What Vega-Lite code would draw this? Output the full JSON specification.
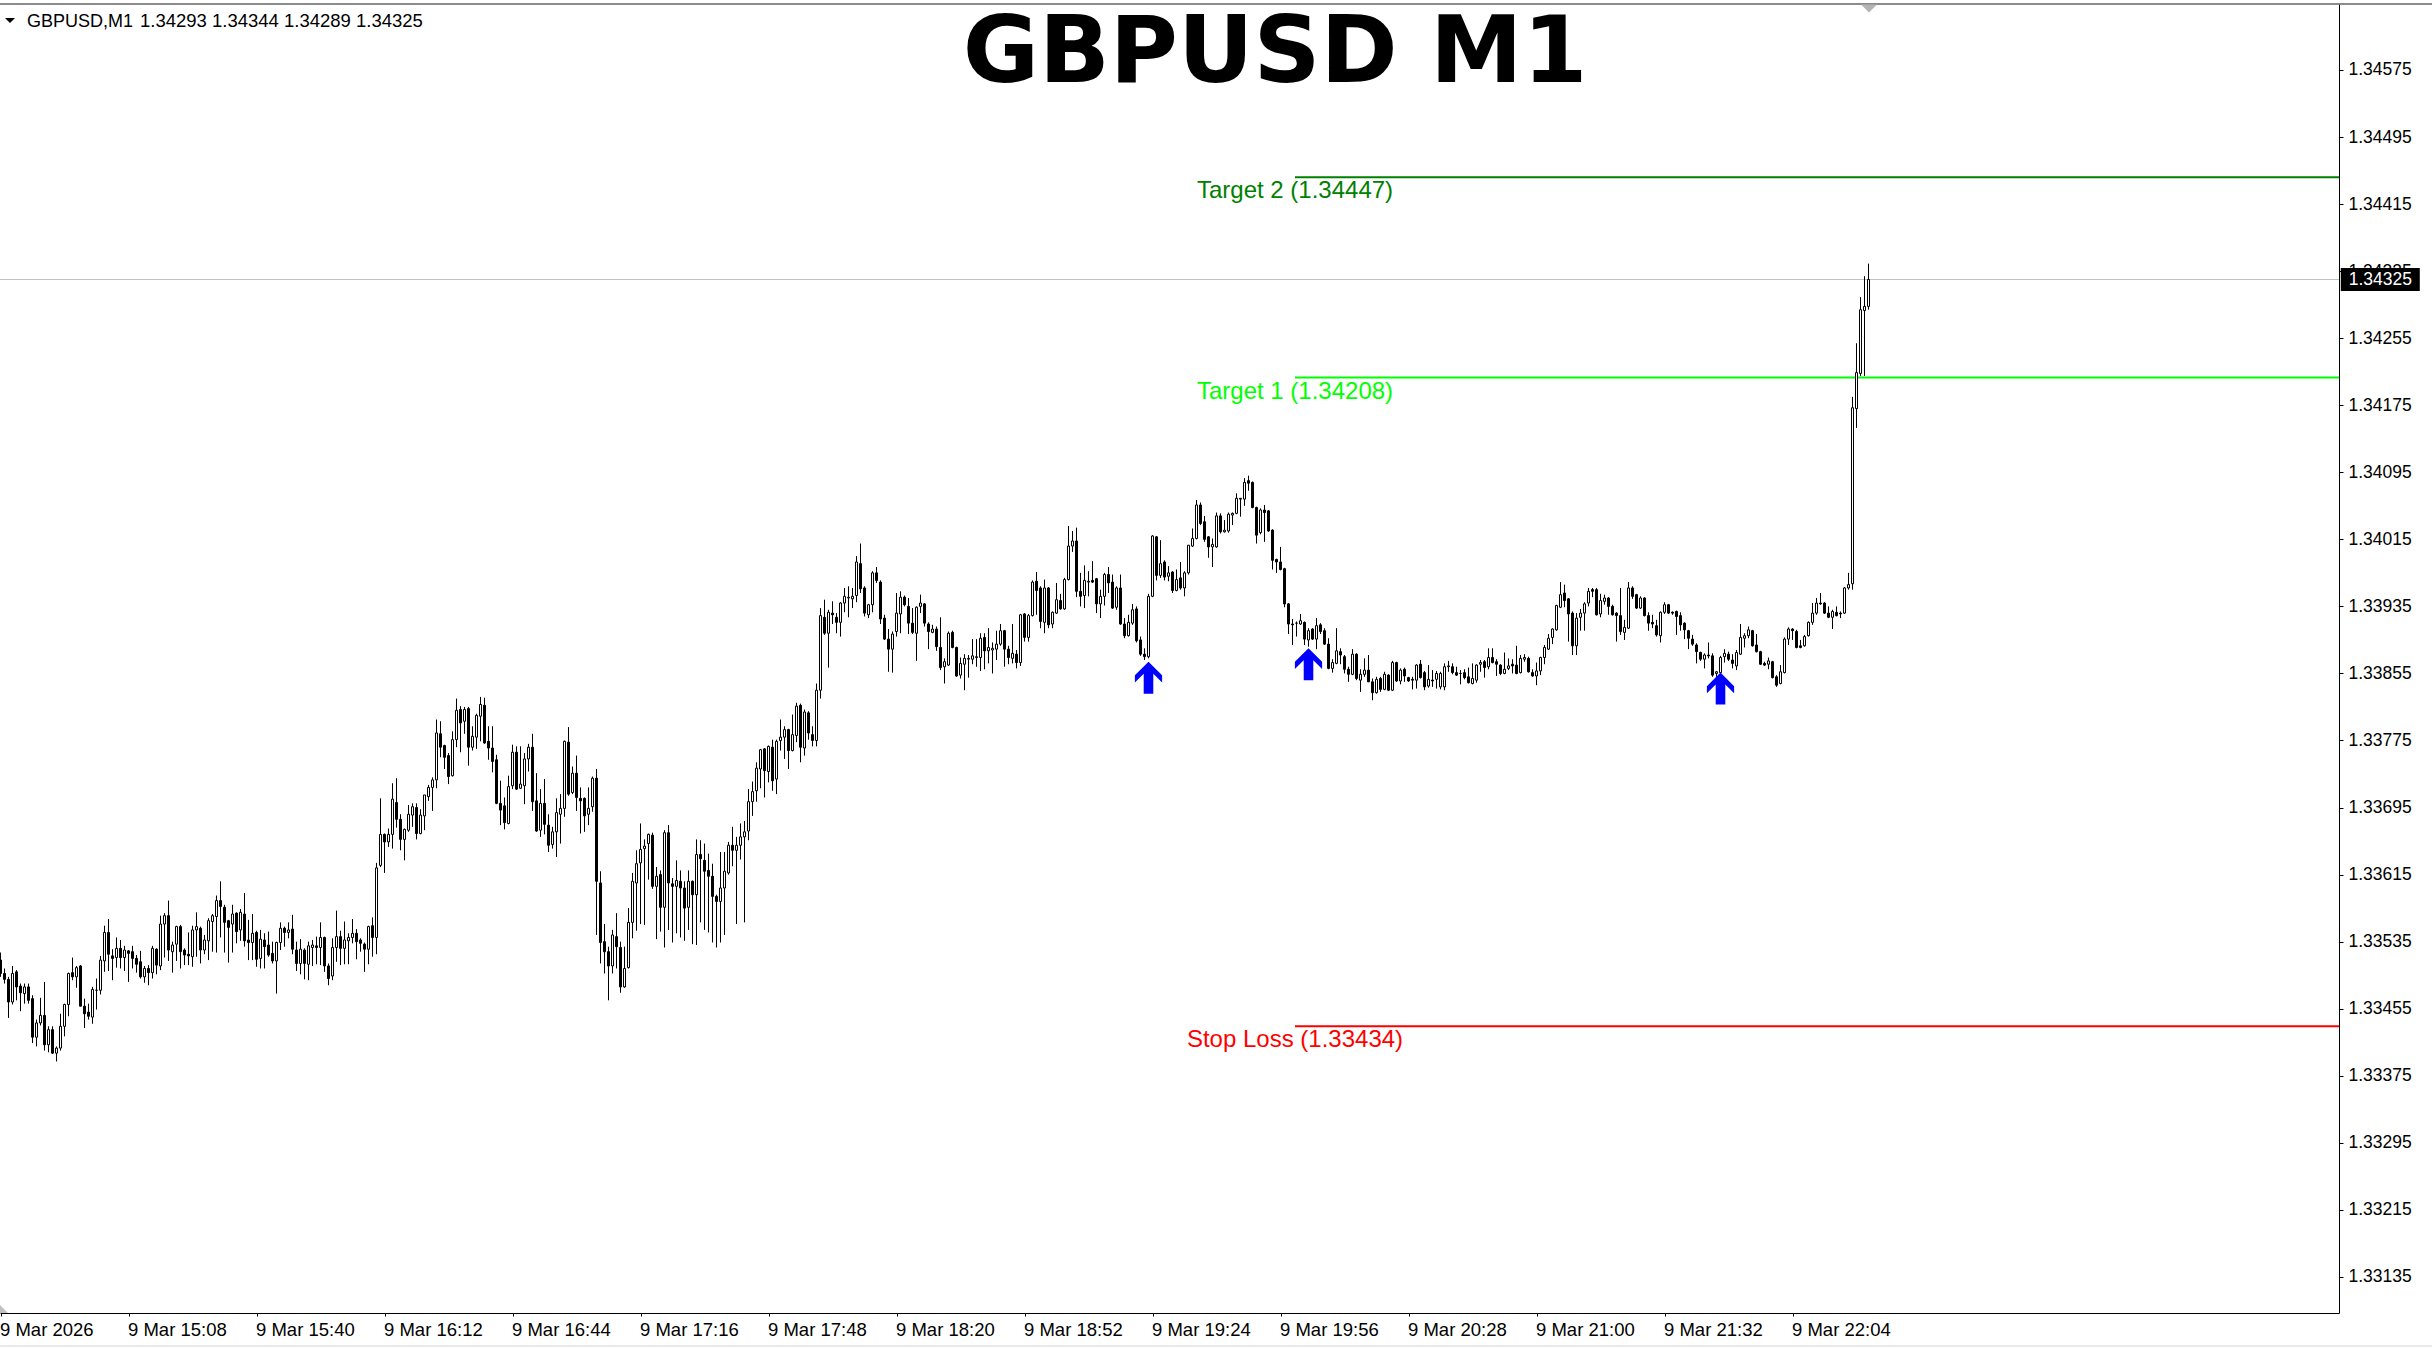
{
"$schema": "https://vega.github.io/schema/vega-lite/v6.json",
"width": 2339, "height": 1309,
"autosize": {"type": "none"},
"padding": {"left": 0, "top": 4, "right": 93, "bottom": 35},
"background": "white",
"config": {"view": {"stroke": null}},
"datasets": {
"levels": [
{"name": "Target 2", "p": 1.34447, "label": "Target 2 (1.34447)"},
{"name": "Target 1", "p": 1.34208, "label": "Target 1 (1.34208)"},
{"name": "Stop Loss", "p": 1.33434, "label": "Stop Loss (1.33434)"}
],
"arrows": [
{"i": 287, "p": 1.33850},
{"i": 327, "p": 1.33866},
{"i": 430, "p": 1.33837}
],
"bars": [
{"i":0,"o":1.33513,"h":1.33522,"l":1.33493,"c":1.33497},
{"i":1,"o":1.33497,"h":1.33503,"l":1.33485,"c":1.33490},
{"i":2,"o":1.33490,"h":1.33493,"l":1.33444,"c":1.33463},
{"i":3,"o":1.33463,"h":1.33506,"l":1.33460,"c":1.33497},
{"i":4,"o":1.33499,"h":1.33501,"l":1.33465,"c":1.33481},
{"i":5,"o":1.33482,"h":1.33485,"l":1.33452,"c":1.33474},
{"i":6,"o":1.33473,"h":1.33485,"l":1.33461,"c":1.33481},
{"i":7,"o":1.33481,"h":1.33485,"l":1.33461,"c":1.33465},
{"i":8,"o":1.33467,"h":1.33471,"l":1.33414,"c":1.33421},
{"i":9,"o":1.33421,"h":1.33442,"l":1.33410,"c":1.33438},
{"i":10,"o":1.33438,"h":1.33468,"l":1.33435,"c":1.33447},
{"i":11,"o":1.33447,"h":1.33487,"l":1.33405,"c":1.33412},
{"i":12,"o":1.33412,"h":1.33434,"l":1.33403,"c":1.33430},
{"i":13,"o":1.33430,"h":1.33434,"l":1.33401,"c":1.33402},
{"i":14,"o":1.33402,"h":1.33410,"l":1.33392,"c":1.33408},
{"i":15,"o":1.33408,"h":1.33449,"l":1.33405,"c":1.33434},
{"i":16,"o":1.33434,"h":1.33461,"l":1.33422,"c":1.33460},
{"i":17,"o":1.33460,"h":1.33498,"l":1.33446,"c":1.33497},
{"i":18,"o":1.33498,"h":1.33516,"l":1.33489,"c":1.33493},
{"i":19,"o":1.33493,"h":1.33506,"l":1.33480,"c":1.33504},
{"i":20,"o":1.33506,"h":1.33507,"l":1.33458,"c":1.33458},
{"i":21,"o":1.33458,"h":1.33467,"l":1.33432,"c":1.33449},
{"i":22,"o":1.33451,"h":1.33461,"l":1.33442,"c":1.33446},
{"i":23,"o":1.33445,"h":1.33481,"l":1.33437,"c":1.33478},
{"i":24,"o":1.33477,"h":1.33491,"l":1.33454,"c":1.33477},
{"i":25,"o":1.33477,"h":1.33518,"l":1.33472,"c":1.33513},
{"i":26,"o":1.33512,"h":1.33554,"l":1.33499,"c":1.33546},
{"i":27,"o":1.33546,"h":1.33562,"l":1.33500,"c":1.33520},
{"i":28,"o":1.33518,"h":1.33526,"l":1.33489,"c":1.33515},
{"i":29,"o":1.33516,"h":1.33540,"l":1.33504,"c":1.33527},
{"i":30,"o":1.33527,"h":1.33537,"l":1.33503,"c":1.33516},
{"i":31,"o":1.33516,"h":1.33530,"l":1.33500,"c":1.33525},
{"i":32,"o":1.33524,"h":1.33525,"l":1.33487,"c":1.33521},
{"i":33,"o":1.33523,"h":1.33530,"l":1.33503,"c":1.33515},
{"i":34,"o":1.33515,"h":1.33519,"l":1.33498,"c":1.33508},
{"i":35,"o":1.33511,"h":1.33524,"l":1.33491,"c":1.33493},
{"i":36,"o":1.33493,"h":1.33506,"l":1.33486,"c":1.33503},
{"i":37,"o":1.33503,"h":1.33507,"l":1.33483,"c":1.33498},
{"i":38,"o":1.33498,"h":1.33530,"l":1.33491,"c":1.33527},
{"i":39,"o":1.33526,"h":1.33527,"l":1.33496,"c":1.33507},
{"i":40,"o":1.33506,"h":1.33566,"l":1.33501,"c":1.33556},
{"i":41,"o":1.33556,"h":1.33569,"l":1.33516,"c":1.33566},
{"i":42,"o":1.33566,"h":1.33584,"l":1.33512,"c":1.33525},
{"i":43,"o":1.33523,"h":1.33535,"l":1.33498,"c":1.33531},
{"i":44,"o":1.33532,"h":1.33554,"l":1.33512,"c":1.33553},
{"i":45,"o":1.33553,"h":1.33555,"l":1.33503,"c":1.33523},
{"i":46,"o":1.33525,"h":1.33527,"l":1.33507,"c":1.33519},
{"i":47,"o":1.33520,"h":1.33546,"l":1.33507,"c":1.33518},
{"i":48,"o":1.33517,"h":1.33554,"l":1.33505,"c":1.33549},
{"i":49,"o":1.33549,"h":1.33570,"l":1.33517,"c":1.33553},
{"i":50,"o":1.33551,"h":1.33553,"l":1.33509,"c":1.33525},
{"i":51,"o":1.33525,"h":1.33543,"l":1.33520,"c":1.33537},
{"i":52,"o":1.33536,"h":1.33563,"l":1.33513,"c":1.33560},
{"i":53,"o":1.33559,"h":1.33568,"l":1.33523,"c":1.33566},
{"i":54,"o":1.33565,"h":1.33590,"l":1.33522,"c":1.33584},
{"i":55,"o":1.33584,"h":1.33607,"l":1.33540,"c":1.33577},
{"i":56,"o":1.33576,"h":1.33579,"l":1.33522,"c":1.33558},
{"i":57,"o":1.33560,"h":1.33561,"l":1.33510,"c":1.33552},
{"i":58,"o":1.33556,"h":1.33579,"l":1.33522,"c":1.33568},
{"i":59,"o":1.33569,"h":1.33570,"l":1.33533,"c":1.33547},
{"i":60,"o":1.33549,"h":1.33574,"l":1.33536,"c":1.33570},
{"i":61,"o":1.33568,"h":1.33593,"l":1.33529,"c":1.33536},
{"i":62,"o":1.33537,"h":1.33561,"l":1.33513,"c":1.33534},
{"i":63,"o":1.33534,"h":1.33568,"l":1.33513,"c":1.33545},
{"i":64,"o":1.33546,"h":1.33548,"l":1.33505,"c":1.33514},
{"i":65,"o":1.33515,"h":1.33549,"l":1.33503,"c":1.33538},
{"i":66,"o":1.33537,"h":1.33545,"l":1.33503,"c":1.33529},
{"i":67,"o":1.33531,"h":1.33547,"l":1.33517,"c":1.33519},
{"i":68,"o":1.33521,"h":1.33535,"l":1.33509,"c":1.33512},
{"i":69,"o":1.33512,"h":1.33535,"l":1.33473,"c":1.33534},
{"i":70,"o":1.33534,"h":1.33558,"l":1.33525,"c":1.33551},
{"i":71,"o":1.33551,"h":1.33553,"l":1.33529,"c":1.33546},
{"i":72,"o":1.33546,"h":1.33558,"l":1.33539,"c":1.33549},
{"i":73,"o":1.33550,"h":1.33567,"l":1.33520,"c":1.33526},
{"i":74,"o":1.33525,"h":1.33535,"l":1.33500,"c":1.33509},
{"i":75,"o":1.33509,"h":1.33538,"l":1.33496,"c":1.33526},
{"i":76,"o":1.33525,"h":1.33527,"l":1.33490,"c":1.33509},
{"i":77,"o":1.33508,"h":1.33535,"l":1.33489,"c":1.33530},
{"i":78,"o":1.33528,"h":1.33537,"l":1.33506,"c":1.33531},
{"i":79,"o":1.33530,"h":1.33541,"l":1.33508,"c":1.33528},
{"i":80,"o":1.33528,"h":1.33558,"l":1.33507,"c":1.33540},
{"i":81,"o":1.33540,"h":1.33541,"l":1.33499,"c":1.33506},
{"i":82,"o":1.33506,"h":1.33509,"l":1.33483,"c":1.33491},
{"i":83,"o":1.33494,"h":1.33539,"l":1.33489,"c":1.33528},
{"i":84,"o":1.33528,"h":1.33572,"l":1.33511,"c":1.33541},
{"i":85,"o":1.33541,"h":1.33548,"l":1.33507,"c":1.33527},
{"i":86,"o":1.33527,"h":1.33559,"l":1.33508,"c":1.33537},
{"i":87,"o":1.33536,"h":1.33545,"l":1.33508,"c":1.33540},
{"i":88,"o":1.33540,"h":1.33562,"l":1.33533,"c":1.33545},
{"i":89,"o":1.33545,"h":1.33550,"l":1.33514,"c":1.33535},
{"i":90,"o":1.33537,"h":1.33539,"l":1.33523,"c":1.33533},
{"i":91,"o":1.33532,"h":1.33534,"l":1.33499,"c":1.33526},
{"i":92,"o":1.33526,"h":1.33554,"l":1.33508,"c":1.33553},
{"i":93,"o":1.33554,"h":1.33564,"l":1.33517,"c":1.33540},
{"i":94,"o":1.33540,"h":1.33629,"l":1.33520,"c":1.33623},
{"i":95,"o":1.33626,"h":1.33706,"l":1.33624,"c":1.33663},
{"i":96,"o":1.33663,"h":1.33664,"l":1.33617,"c":1.33654},
{"i":97,"o":1.33654,"h":1.33670,"l":1.33648,"c":1.33663},
{"i":98,"o":1.33663,"h":1.33724,"l":1.33646,"c":1.33705},
{"i":99,"o":1.33701,"h":1.33730,"l":1.33671,"c":1.33681},
{"i":100,"o":1.33681,"h":1.33687,"l":1.33644,"c":1.33657},
{"i":101,"o":1.33657,"h":1.33670,"l":1.33632,"c":1.33669},
{"i":102,"o":1.33668,"h":1.33698,"l":1.33666,"c":1.33687},
{"i":103,"o":1.33686,"h":1.33700,"l":1.33672,"c":1.33696},
{"i":104,"o":1.33695,"h":1.33700,"l":1.33657,"c":1.33664},
{"i":105,"o":1.33664,"h":1.33693,"l":1.33663,"c":1.33686},
{"i":106,"o":1.33685,"h":1.33710,"l":1.33668,"c":1.33710},
{"i":107,"o":1.33708,"h":1.33722,"l":1.33703,"c":1.33719},
{"i":108,"o":1.33719,"h":1.33731,"l":1.33691,"c":1.33728},
{"i":109,"o":1.33728,"h":1.33800,"l":1.33718,"c":1.33784},
{"i":110,"o":1.33783,"h":1.33798,"l":1.33755,"c":1.33767},
{"i":111,"o":1.33769,"h":1.33770,"l":1.33741,"c":1.33755},
{"i":112,"o":1.33757,"h":1.33760,"l":1.33723,"c":1.33732},
{"i":113,"o":1.33733,"h":1.33786,"l":1.33732,"c":1.33776},
{"i":114,"o":1.33776,"h":1.33825,"l":1.33767,"c":1.33811},
{"i":115,"o":1.33812,"h":1.33816,"l":1.33761,"c":1.33796},
{"i":116,"o":1.33798,"h":1.33815,"l":1.33783,"c":1.33812},
{"i":117,"o":1.33813,"h":1.33815,"l":1.33745,"c":1.33767},
{"i":118,"o":1.33767,"h":1.33792,"l":1.33763,"c":1.33780},
{"i":119,"o":1.33779,"h":1.33807,"l":1.33765,"c":1.33805},
{"i":120,"o":1.33804,"h":1.33827,"l":1.33774,"c":1.33818},
{"i":121,"o":1.33817,"h":1.33826,"l":1.33771,"c":1.33772},
{"i":122,"o":1.33774,"h":1.33792,"l":1.33752,"c":1.33766},
{"i":123,"o":1.33766,"h":1.33792,"l":1.33737,"c":1.33750},
{"i":124,"o":1.33752,"h":1.33758,"l":1.33699,"c":1.33700},
{"i":125,"o":1.33700,"h":1.33727,"l":1.33674,"c":1.33692},
{"i":126,"o":1.33697,"h":1.33707,"l":1.33669,"c":1.33677},
{"i":127,"o":1.33676,"h":1.33733,"l":1.33675,"c":1.33720},
{"i":128,"o":1.33721,"h":1.33770,"l":1.33717,"c":1.33761},
{"i":129,"o":1.33761,"h":1.33768,"l":1.33716,"c":1.33717},
{"i":130,"o":1.33718,"h":1.33768,"l":1.33717,"c":1.33723},
{"i":131,"o":1.33721,"h":1.33760,"l":1.33699,"c":1.33753},
{"i":132,"o":1.33753,"h":1.33771,"l":1.33738,"c":1.33767},
{"i":133,"o":1.33767,"h":1.33783,"l":1.33691,"c":1.33702},
{"i":134,"o":1.33703,"h":1.33736,"l":1.33666,"c":1.33667},
{"i":135,"o":1.33668,"h":1.33717,"l":1.33660,"c":1.33700},
{"i":136,"o":1.33700,"h":1.33729,"l":1.33663,"c":1.33675},
{"i":137,"o":1.33674,"h":1.33687,"l":1.33642,"c":1.33650},
{"i":138,"o":1.33651,"h":1.33672,"l":1.33646,"c":1.33666},
{"i":139,"o":1.33666,"h":1.33706,"l":1.33636,"c":1.33689},
{"i":140,"o":1.33687,"h":1.33711,"l":1.33652,"c":1.33694},
{"i":141,"o":1.33694,"h":1.33775,"l":1.33684,"c":1.33774},
{"i":142,"o":1.33773,"h":1.33791,"l":1.33709,"c":1.33711},
{"i":143,"o":1.33713,"h":1.33744,"l":1.33711,"c":1.33736},
{"i":144,"o":1.33736,"h":1.33757,"l":1.33691,"c":1.33707},
{"i":145,"o":1.33706,"h":1.33719,"l":1.33664,"c":1.33703},
{"i":146,"o":1.33706,"h":1.33707,"l":1.33666,"c":1.33685},
{"i":147,"o":1.33687,"h":1.33719,"l":1.33674,"c":1.33694},
{"i":148,"o":1.33696,"h":1.33732,"l":1.33690,"c":1.33730},
{"i":149,"o":1.33730,"h":1.33741,"l":1.33543,"c":1.33607},
{"i":150,"o":1.33605,"h":1.33619,"l":1.33509,"c":1.33534},
{"i":151,"o":1.33535,"h":1.33556,"l":1.33497,"c":1.33523},
{"i":152,"o":1.33523,"h":1.33529,"l":1.33465,"c":1.33506},
{"i":153,"o":1.33506,"h":1.33549,"l":1.33497,"c":1.33543},
{"i":154,"o":1.33541,"h":1.33569,"l":1.33503,"c":1.33529},
{"i":155,"o":1.33528,"h":1.33535,"l":1.33474,"c":1.33481},
{"i":156,"o":1.33481,"h":1.33529,"l":1.33480,"c":1.33503},
{"i":157,"o":1.33504,"h":1.33575,"l":1.33503,"c":1.33558},
{"i":158,"o":1.33558,"h":1.33617,"l":1.33539,"c":1.33607},
{"i":159,"o":1.33605,"h":1.33644,"l":1.33548,"c":1.33628},
{"i":160,"o":1.33629,"h":1.33676,"l":1.33556,"c":1.33645},
{"i":161,"o":1.33646,"h":1.33657,"l":1.33555,"c":1.33649},
{"i":162,"o":1.33652,"h":1.33664,"l":1.33609,"c":1.33663},
{"i":163,"o":1.33662,"h":1.33665,"l":1.33598,"c":1.33601},
{"i":164,"o":1.33601,"h":1.33624,"l":1.33538,"c":1.33613},
{"i":165,"o":1.33615,"h":1.33620,"l":1.33547,"c":1.33576},
{"i":166,"o":1.33576,"h":1.33668,"l":1.33528,"c":1.33665},
{"i":167,"o":1.33665,"h":1.33674,"l":1.33549,"c":1.33605},
{"i":168,"o":1.33604,"h":1.33611,"l":1.33534,"c":1.33601},
{"i":169,"o":1.33601,"h":1.33632,"l":1.33545,"c":1.33608},
{"i":170,"o":1.33607,"h":1.33620,"l":1.33540,"c":1.33599},
{"i":171,"o":1.33599,"h":1.33607,"l":1.33536,"c":1.33575},
{"i":172,"o":1.33576,"h":1.33620,"l":1.33549,"c":1.33607},
{"i":173,"o":1.33607,"h":1.33608,"l":1.33532,"c":1.33591},
{"i":174,"o":1.33591,"h":1.33657,"l":1.33531,"c":1.33639},
{"i":175,"o":1.33639,"h":1.33656,"l":1.33558,"c":1.33634},
{"i":176,"o":1.33632,"h":1.33652,"l":1.33549,"c":1.33619},
{"i":177,"o":1.33620,"h":1.33640,"l":1.33546,"c":1.33613},
{"i":178,"o":1.33613,"h":1.33628,"l":1.33534,"c":1.33589},
{"i":179,"o":1.33589,"h":1.33591,"l":1.33528,"c":1.33583},
{"i":180,"o":1.33583,"h":1.33642,"l":1.33534,"c":1.33599},
{"i":181,"o":1.33599,"h":1.33642,"l":1.33543,"c":1.33619},
{"i":182,"o":1.33617,"h":1.33654,"l":1.33615,"c":1.33650},
{"i":183,"o":1.33650,"h":1.33672,"l":1.33625,"c":1.33644},
{"i":184,"o":1.33644,"h":1.33660,"l":1.33556,"c":1.33650},
{"i":185,"o":1.33650,"h":1.33676,"l":1.33633,"c":1.33660},
{"i":186,"o":1.33660,"h":1.33679,"l":1.33558,"c":1.33666},
{"i":187,"o":1.33667,"h":1.33717,"l":1.33656,"c":1.33702},
{"i":188,"o":1.33702,"h":1.33726,"l":1.33685,"c":1.33714},
{"i":189,"o":1.33715,"h":1.33749,"l":1.33702,"c":1.33742},
{"i":190,"o":1.33741,"h":1.33765,"l":1.33718,"c":1.33764},
{"i":191,"o":1.33765,"h":1.33766,"l":1.33707,"c":1.33739},
{"i":192,"o":1.33738,"h":1.33769,"l":1.33725,"c":1.33768},
{"i":193,"o":1.33767,"h":1.33776,"l":1.33715,"c":1.33727},
{"i":194,"o":1.33729,"h":1.33776,"l":1.33711,"c":1.33774},
{"i":195,"o":1.33775,"h":1.33800,"l":1.33763,"c":1.33779},
{"i":196,"o":1.33779,"h":1.33792,"l":1.33753,"c":1.33788},
{"i":197,"o":1.33788,"h":1.33789,"l":1.33741,"c":1.33763},
{"i":198,"o":1.33763,"h":1.33806,"l":1.33762,"c":1.33782},
{"i":199,"o":1.33781,"h":1.33820,"l":1.33773,"c":1.33816},
{"i":200,"o":1.33817,"h":1.33819,"l":1.33749,"c":1.33767},
{"i":201,"o":1.33766,"h":1.33812,"l":1.33757,"c":1.33809},
{"i":202,"o":1.33808,"h":1.33810,"l":1.33776,"c":1.33784},
{"i":203,"o":1.33782,"h":1.33792,"l":1.33768,"c":1.33775},
{"i":204,"o":1.33775,"h":1.33843,"l":1.33768,"c":1.33835},
{"i":205,"o":1.33835,"h":1.33933,"l":1.33825,"c":1.33924},
{"i":206,"o":1.33922,"h":1.33943,"l":1.33901,"c":1.33903},
{"i":207,"o":1.33903,"h":1.33931,"l":1.33862,"c":1.33928},
{"i":208,"o":1.33927,"h":1.33941,"l":1.33914,"c":1.33925},
{"i":209,"o":1.33922,"h":1.33927,"l":1.33903,"c":1.33916},
{"i":210,"o":1.33916,"h":1.33940,"l":1.33899,"c":1.33939},
{"i":211,"o":1.33939,"h":1.33957,"l":1.33928,"c":1.33947},
{"i":212,"o":1.33945,"h":1.33959,"l":1.33922,"c":1.33946},
{"i":213,"o":1.33944,"h":1.33957,"l":1.33933,"c":1.33947},
{"i":214,"o":1.33948,"h":1.33995,"l":1.33940,"c":1.33988},
{"i":215,"o":1.33986,"h":1.34010,"l":1.33951,"c":1.33956},
{"i":216,"o":1.33957,"h":1.33959,"l":1.33923,"c":1.33927},
{"i":217,"o":1.33925,"h":1.33938,"l":1.33921,"c":1.33937},
{"i":218,"o":1.33937,"h":1.33977,"l":1.33928,"c":1.33975},
{"i":219,"o":1.33975,"h":1.33982,"l":1.33963,"c":1.33966},
{"i":220,"o":1.33964,"h":1.33966,"l":1.33914,"c":1.33920},
{"i":221,"o":1.33921,"h":1.33925,"l":1.33895,"c":1.33896},
{"i":222,"o":1.33896,"h":1.33908,"l":1.33857,"c":1.33884},
{"i":223,"o":1.33884,"h":1.33905,"l":1.33856,"c":1.33902},
{"i":224,"o":1.33905,"h":1.33951,"l":1.33899,"c":1.33927},
{"i":225,"o":1.33926,"h":1.33953,"l":1.33903,"c":1.33946},
{"i":226,"o":1.33946,"h":1.33948,"l":1.33935,"c":1.33937},
{"i":227,"o":1.33935,"h":1.33945,"l":1.33902,"c":1.33915},
{"i":228,"o":1.33915,"h":1.33933,"l":1.33902,"c":1.33904},
{"i":229,"o":1.33903,"h":1.33935,"l":1.33870,"c":1.33934},
{"i":230,"o":1.33935,"h":1.33949,"l":1.33927,"c":1.33939},
{"i":231,"o":1.33938,"h":1.33939,"l":1.33911,"c":1.33915},
{"i":232,"o":1.33914,"h":1.33916,"l":1.33884,"c":1.33905},
{"i":233,"o":1.33904,"h":1.33913,"l":1.33903,"c":1.33908},
{"i":234,"o":1.33908,"h":1.33911,"l":1.33882,"c":1.33887},
{"i":235,"o":1.33886,"h":1.33922,"l":1.33859,"c":1.33862},
{"i":236,"o":1.33863,"h":1.33873,"l":1.33843,"c":1.33869},
{"i":237,"o":1.33865,"h":1.33905,"l":1.33864,"c":1.33903},
{"i":238,"o":1.33904,"h":1.33906,"l":1.33885,"c":1.33886},
{"i":239,"o":1.33886,"h":1.33887,"l":1.33851,"c":1.33852},
{"i":240,"o":1.33853,"h":1.33874,"l":1.33849,"c":1.33867},
{"i":241,"o":1.33866,"h":1.33878,"l":1.33835,"c":1.33873},
{"i":242,"o":1.33872,"h":1.33877,"l":1.33850,"c":1.33873},
{"i":243,"o":1.33872,"h":1.33896,"l":1.33866,"c":1.33876},
{"i":244,"o":1.33874,"h":1.33896,"l":1.33863,"c":1.33875},
{"i":245,"o":1.33874,"h":1.33903,"l":1.33858,"c":1.33897},
{"i":246,"o":1.33898,"h":1.33903,"l":1.33860,"c":1.33882},
{"i":247,"o":1.33882,"h":1.33909,"l":1.33867,"c":1.33886},
{"i":248,"o":1.33883,"h":1.33892,"l":1.33855,"c":1.33885},
{"i":249,"o":1.33884,"h":1.33906,"l":1.33871,"c":1.33890},
{"i":250,"o":1.33890,"h":1.33914,"l":1.33888,"c":1.33906},
{"i":251,"o":1.33906,"h":1.33907,"l":1.33863,"c":1.33884},
{"i":252,"o":1.33884,"h":1.33888,"l":1.33866,"c":1.33874},
{"i":253,"o":1.33873,"h":1.33914,"l":1.33867,"c":1.33879},
{"i":254,"o":1.33878,"h":1.33883,"l":1.33861,"c":1.33868},
{"i":255,"o":1.33868,"h":1.33926,"l":1.33864,"c":1.33925},
{"i":256,"o":1.33926,"h":1.33927,"l":1.33893,"c":1.33898},
{"i":257,"o":1.33898,"h":1.33926,"l":1.33893,"c":1.33924},
{"i":258,"o":1.33924,"h":1.33966,"l":1.33923,"c":1.33964},
{"i":259,"o":1.33965,"h":1.33976,"l":1.33925,"c":1.33954},
{"i":260,"o":1.33957,"h":1.33959,"l":1.33909,"c":1.33917},
{"i":261,"o":1.33916,"h":1.33967,"l":1.33903,"c":1.33957},
{"i":262,"o":1.33957,"h":1.33958,"l":1.33909,"c":1.33913},
{"i":263,"o":1.33914,"h":1.33929,"l":1.33909,"c":1.33928},
{"i":264,"o":1.33927,"h":1.33963,"l":1.33926,"c":1.33943},
{"i":265,"o":1.33942,"h":1.33950,"l":1.33931,"c":1.33932},
{"i":266,"o":1.33932,"h":1.33969,"l":1.33931,"c":1.33967},
{"i":267,"o":1.33967,"h":1.34031,"l":1.33966,"c":1.34007},
{"i":268,"o":1.34007,"h":1.34025,"l":1.34000,"c":1.34013},
{"i":269,"o":1.34013,"h":1.34029,"l":1.33946,"c":1.33953},
{"i":270,"o":1.33953,"h":1.33975,"l":1.33935,"c":1.33947},
{"i":271,"o":1.33948,"h":1.33984,"l":1.33933,"c":1.33966},
{"i":272,"o":1.33964,"h":1.33977,"l":1.33947,"c":1.33965},
{"i":273,"o":1.33966,"h":1.33989,"l":1.33963,"c":1.33964},
{"i":274,"o":1.33968,"h":1.33969,"l":1.33927,"c":1.33938},
{"i":275,"o":1.33938,"h":1.33955,"l":1.33921,"c":1.33947},
{"i":276,"o":1.33947,"h":1.33975,"l":1.33936,"c":1.33973},
{"i":277,"o":1.33973,"h":1.33982,"l":1.33951,"c":1.33963},
{"i":278,"o":1.33964,"h":1.33973,"l":1.33932,"c":1.33933},
{"i":279,"o":1.33934,"h":1.33959,"l":1.33931,"c":1.33957},
{"i":280,"o":1.33957,"h":1.33973,"l":1.33913,"c":1.33914},
{"i":281,"o":1.33914,"h":1.33921,"l":1.33897,"c":1.33900},
{"i":282,"o":1.33900,"h":1.33925,"l":1.33899,"c":1.33916},
{"i":283,"o":1.33915,"h":1.33938,"l":1.33913,"c":1.33931},
{"i":284,"o":1.33932,"h":1.33935,"l":1.33892,"c":1.33894},
{"i":285,"o":1.33895,"h":1.33899,"l":1.33876,"c":1.33878},
{"i":286,"o":1.33878,"h":1.33885,"l":1.33871,"c":1.33875},
{"i":287,"o":1.33875,"h":1.33950,"l":1.33873,"c":1.33947},
{"i":288,"o":1.33947,"h":1.34020,"l":1.33946,"c":1.34019},
{"i":289,"o":1.34018,"h":1.34019,"l":1.33966,"c":1.33972},
{"i":290,"o":1.33972,"h":1.34014,"l":1.33969,"c":1.33986},
{"i":291,"o":1.33988,"h":1.33990,"l":1.33966,"c":1.33970},
{"i":292,"o":1.33971,"h":1.33983,"l":1.33965,"c":1.33975},
{"i":293,"o":1.33976,"h":1.33977,"l":1.33951,"c":1.33954},
{"i":294,"o":1.33954,"h":1.33979,"l":1.33953,"c":1.33967},
{"i":295,"o":1.33969,"h":1.33988,"l":1.33955,"c":1.33957},
{"i":296,"o":1.33957,"h":1.33977,"l":1.33947,"c":1.33975},
{"i":297,"o":1.33975,"h":1.34008,"l":1.33973,"c":1.34008},
{"i":298,"o":1.34007,"h":1.34028,"l":1.34006,"c":1.34016},
{"i":299,"o":1.34016,"h":1.34062,"l":1.34015,"c":1.34056},
{"i":300,"o":1.34056,"h":1.34059,"l":1.34032,"c":1.34034},
{"i":301,"o":1.34036,"h":1.34043,"l":1.34012,"c":1.34015},
{"i":302,"o":1.34018,"h":1.34019,"l":1.33993,"c":1.34006},
{"i":303,"o":1.34006,"h":1.34016,"l":1.33982,"c":1.34009},
{"i":304,"o":1.34006,"h":1.34047,"l":1.34005,"c":1.34043},
{"i":305,"o":1.34043,"h":1.34046,"l":1.34022,"c":1.34024},
{"i":306,"o":1.34024,"h":1.34038,"l":1.34023,"c":1.34026},
{"i":307,"o":1.34025,"h":1.34047,"l":1.34023,"c":1.34045},
{"i":308,"o":1.34044,"h":1.34047,"l":1.34032,"c":1.34046},
{"i":309,"o":1.34046,"h":1.34070,"l":1.34045,"c":1.34064},
{"i":310,"o":1.34063,"h":1.34064,"l":1.34042,"c":1.34064},
{"i":311,"o":1.34063,"h":1.34088,"l":1.34055,"c":1.34083},
{"i":312,"o":1.34085,"h":1.34091,"l":1.34073,"c":1.34082},
{"i":313,"o":1.34083,"h":1.34084,"l":1.34052,"c":1.34053},
{"i":314,"o":1.34053,"h":1.34054,"l":1.34010,"c":1.34020},
{"i":315,"o":1.34023,"h":1.34052,"l":1.34021,"c":1.34050},
{"i":316,"o":1.34050,"h":1.34056,"l":1.34012,"c":1.34047},
{"i":317,"o":1.34049,"h":1.34050,"l":1.34024,"c":1.34025},
{"i":318,"o":1.34026,"h":1.34027,"l":1.33979,"c":1.33990},
{"i":319,"o":1.33991,"h":1.33992,"l":1.33975,"c":1.33988},
{"i":320,"o":1.33988,"h":1.34006,"l":1.33978,"c":1.33979},
{"i":321,"o":1.33980,"h":1.33981,"l":1.33934,"c":1.33938},
{"i":322,"o":1.33938,"h":1.33939,"l":1.33902,"c":1.33914},
{"i":323,"o":1.33914,"h":1.33920,"l":1.33889,"c":1.33913},
{"i":324,"o":1.33915,"h":1.33917,"l":1.33899,"c":1.33915},
{"i":325,"o":1.33914,"h":1.33926,"l":1.33913,"c":1.33918},
{"i":326,"o":1.33916,"h":1.33917,"l":1.33889,"c":1.33896},
{"i":327,"o":1.33895,"h":1.33909,"l":1.33887,"c":1.33906},
{"i":328,"o":1.33908,"h":1.33909,"l":1.33895,"c":1.33896},
{"i":329,"o":1.33896,"h":1.33921,"l":1.33884,"c":1.33912},
{"i":330,"o":1.33913,"h":1.33915,"l":1.33902,"c":1.33905},
{"i":331,"o":1.33906,"h":1.33909,"l":1.33889,"c":1.33890},
{"i":332,"o":1.33890,"h":1.33897,"l":1.33860,"c":1.33861},
{"i":333,"o":1.33861,"h":1.33872,"l":1.33856,"c":1.33868},
{"i":334,"o":1.33867,"h":1.33909,"l":1.33866,"c":1.33882},
{"i":335,"o":1.33881,"h":1.33885,"l":1.33866,"c":1.33877},
{"i":336,"o":1.33875,"h":1.33877,"l":1.33855,"c":1.33860},
{"i":337,"o":1.33860,"h":1.33863,"l":1.33845,"c":1.33854},
{"i":338,"o":1.33854,"h":1.33884,"l":1.33853,"c":1.33878},
{"i":339,"o":1.33878,"h":1.33879,"l":1.33847,"c":1.33849},
{"i":340,"o":1.33847,"h":1.33860,"l":1.33833,"c":1.33854},
{"i":341,"o":1.33854,"h":1.33873,"l":1.33851,"c":1.33859},
{"i":342,"o":1.33859,"h":1.33877,"l":1.33845,"c":1.33845},
{"i":343,"o":1.33845,"h":1.33849,"l":1.33823,"c":1.33832},
{"i":344,"o":1.33832,"h":1.33851,"l":1.33831,"c":1.33848},
{"i":345,"o":1.33849,"h":1.33851,"l":1.33833,"c":1.33836},
{"i":346,"o":1.33836,"h":1.33857,"l":1.33835,"c":1.33854},
{"i":347,"o":1.33853,"h":1.33854,"l":1.33834,"c":1.33835},
{"i":348,"o":1.33835,"h":1.33870,"l":1.33834,"c":1.33868},
{"i":349,"o":1.33868,"h":1.33869,"l":1.33845,"c":1.33846},
{"i":350,"o":1.33846,"h":1.33861,"l":1.33842,"c":1.33859},
{"i":351,"o":1.33860,"h":1.33862,"l":1.33845,"c":1.33852},
{"i":352,"o":1.33850,"h":1.33851,"l":1.33845,"c":1.33846},
{"i":353,"o":1.33848,"h":1.33851,"l":1.33836,"c":1.33847},
{"i":354,"o":1.33847,"h":1.33866,"l":1.33837,"c":1.33865},
{"i":355,"o":1.33866,"h":1.33871,"l":1.33849,"c":1.33850},
{"i":356,"o":1.33856,"h":1.33858,"l":1.33835,"c":1.33839},
{"i":357,"o":1.33840,"h":1.33865,"l":1.33838,"c":1.33848},
{"i":358,"o":1.33847,"h":1.33859,"l":1.33839,"c":1.33846},
{"i":359,"o":1.33848,"h":1.33858,"l":1.33837,"c":1.33855},
{"i":360,"o":1.33839,"h":1.33857,"l":1.33836,"c":1.33855},
{"i":361,"o":1.33839,"h":1.33867,"l":1.33835,"c":1.33863},
{"i":362,"o":1.33863,"h":1.33870,"l":1.33857,"c":1.33864},
{"i":363,"o":1.33863,"h":1.33867,"l":1.33854,"c":1.33856},
{"i":364,"o":1.33856,"h":1.33863,"l":1.33852,"c":1.33853},
{"i":365,"o":1.33855,"h":1.33859,"l":1.33842,"c":1.33855},
{"i":366,"o":1.33856,"h":1.33860,"l":1.33848,"c":1.33850},
{"i":367,"o":1.33851,"h":1.33862,"l":1.33843,"c":1.33844},
{"i":368,"o":1.33843,"h":1.33867,"l":1.33842,"c":1.33849},
{"i":369,"o":1.33847,"h":1.33866,"l":1.33844,"c":1.33865},
{"i":370,"o":1.33866,"h":1.33871,"l":1.33857,"c":1.33868},
{"i":371,"o":1.33869,"h":1.33871,"l":1.33850,"c":1.33862},
{"i":372,"o":1.33863,"h":1.33885,"l":1.33860,"c":1.33874},
{"i":373,"o":1.33874,"h":1.33885,"l":1.33867,"c":1.33868},
{"i":374,"o":1.33869,"h":1.33872,"l":1.33852,"c":1.33866},
{"i":375,"o":1.33865,"h":1.33866,"l":1.33853,"c":1.33855},
{"i":376,"o":1.33855,"h":1.33880,"l":1.33854,"c":1.33860},
{"i":377,"o":1.33861,"h":1.33873,"l":1.33859,"c":1.33864},
{"i":378,"o":1.33866,"h":1.33872,"l":1.33855,"c":1.33864},
{"i":379,"o":1.33865,"h":1.33888,"l":1.33854,"c":1.33855},
{"i":380,"o":1.33856,"h":1.33877,"l":1.33855,"c":1.33873},
{"i":381,"o":1.33872,"h":1.33878,"l":1.33869,"c":1.33874},
{"i":382,"o":1.33873,"h":1.33875,"l":1.33856,"c":1.33857},
{"i":383,"o":1.33856,"h":1.33860,"l":1.33851,"c":1.33852},
{"i":384,"o":1.33852,"h":1.33868,"l":1.33841,"c":1.33858},
{"i":385,"o":1.33858,"h":1.33875,"l":1.33853,"c":1.33874},
{"i":386,"o":1.33874,"h":1.33889,"l":1.33866,"c":1.33886},
{"i":387,"o":1.33884,"h":1.33902,"l":1.33883,"c":1.33897},
{"i":388,"o":1.33898,"h":1.33909,"l":1.33890,"c":1.33908},
{"i":389,"o":1.33907,"h":1.33937,"l":1.33906,"c":1.33936},
{"i":390,"o":1.33934,"h":1.33964,"l":1.33933,"c":1.33949},
{"i":391,"o":1.33951,"h":1.33961,"l":1.33934,"c":1.33942},
{"i":392,"o":1.33944,"h":1.33945,"l":1.33893,"c":1.33926},
{"i":393,"o":1.33927,"h":1.33929,"l":1.33877,"c":1.33888},
{"i":394,"o":1.33888,"h":1.33927,"l":1.33877,"c":1.33921},
{"i":395,"o":1.33922,"h":1.33932,"l":1.33906,"c":1.33927},
{"i":396,"o":1.33927,"h":1.33940,"l":1.33906,"c":1.33938},
{"i":397,"o":1.33939,"h":1.33957,"l":1.33935,"c":1.33953},
{"i":398,"o":1.33955,"h":1.33957,"l":1.33946,"c":1.33953},
{"i":399,"o":1.33955,"h":1.33957,"l":1.33924,"c":1.33925},
{"i":400,"o":1.33926,"h":1.33950,"l":1.33922,"c":1.33942},
{"i":401,"o":1.33941,"h":1.33949,"l":1.33937,"c":1.33945},
{"i":402,"o":1.33945,"h":1.33946,"l":1.33925,"c":1.33935},
{"i":403,"o":1.33935,"h":1.33937,"l":1.33924,"c":1.33925},
{"i":404,"o":1.33927,"h":1.33928,"l":1.33893,"c":1.33924},
{"i":405,"o":1.33924,"h":1.33957,"l":1.33901,"c":1.33905},
{"i":406,"o":1.33904,"h":1.33919,"l":1.33895,"c":1.33910},
{"i":407,"o":1.33909,"h":1.33964,"l":1.33908,"c":1.33957},
{"i":408,"o":1.33957,"h":1.33959,"l":1.33944,"c":1.33947},
{"i":409,"o":1.33949,"h":1.33950,"l":1.33932,"c":1.33933},
{"i":410,"o":1.33933,"h":1.33947,"l":1.33932,"c":1.33945},
{"i":411,"o":1.33945,"h":1.33946,"l":1.33923,"c":1.33924},
{"i":412,"o":1.33924,"h":1.33928,"l":1.33906,"c":1.33915},
{"i":413,"o":1.33916,"h":1.33925,"l":1.33909,"c":1.33914},
{"i":414,"o":1.33912,"h":1.33919,"l":1.33899,"c":1.33901},
{"i":415,"o":1.33900,"h":1.33929,"l":1.33892,"c":1.33928},
{"i":416,"o":1.33928,"h":1.33940,"l":1.33926,"c":1.33937},
{"i":417,"o":1.33937,"h":1.33938,"l":1.33926,"c":1.33927},
{"i":418,"o":1.33928,"h":1.33929,"l":1.33925,"c":1.33927},
{"i":419,"o":1.33929,"h":1.33930,"l":1.33901,"c":1.33923},
{"i":420,"o":1.33924,"h":1.33928,"l":1.33906,"c":1.33913},
{"i":421,"o":1.33915,"h":1.33916,"l":1.33896,"c":1.33907},
{"i":422,"o":1.33906,"h":1.33907,"l":1.33884,"c":1.33897},
{"i":423,"o":1.33896,"h":1.33901,"l":1.33888,"c":1.33890},
{"i":424,"o":1.33889,"h":1.33891,"l":1.33867,"c":1.33881},
{"i":425,"o":1.33880,"h":1.33881,"l":1.33870,"c":1.33872},
{"i":426,"o":1.33872,"h":1.33879,"l":1.33861,"c":1.33877},
{"i":427,"o":1.33877,"h":1.33892,"l":1.33873,"c":1.33876},
{"i":428,"o":1.33876,"h":1.33879,"l":1.33851,"c":1.33853},
{"i":429,"o":1.33855,"h":1.33858,"l":1.33849,"c":1.33857},
{"i":430,"o":1.33856,"h":1.33876,"l":1.33855,"c":1.33874},
{"i":431,"o":1.33875,"h":1.33884,"l":1.33868,"c":1.33879},
{"i":432,"o":1.33878,"h":1.33881,"l":1.33870,"c":1.33872},
{"i":433,"o":1.33871,"h":1.33878,"l":1.33861,"c":1.33867},
{"i":434,"o":1.33864,"h":1.33883,"l":1.33859,"c":1.33880},
{"i":435,"o":1.33878,"h":1.33914,"l":1.33877,"c":1.33898},
{"i":436,"o":1.33897,"h":1.33903,"l":1.33886,"c":1.33900},
{"i":437,"o":1.33900,"h":1.33911,"l":1.33897,"c":1.33907},
{"i":438,"o":1.33906,"h":1.33907,"l":1.33887,"c":1.33888},
{"i":439,"o":1.33889,"h":1.33902,"l":1.33880,"c":1.33881},
{"i":440,"o":1.33881,"h":1.33882,"l":1.33865,"c":1.33866},
{"i":441,"o":1.33867,"h":1.33869,"l":1.33864,"c":1.33865},
{"i":442,"o":1.33866,"h":1.33874,"l":1.33860,"c":1.33870},
{"i":443,"o":1.33869,"h":1.33870,"l":1.33849,"c":1.33850},
{"i":444,"o":1.33851,"h":1.33853,"l":1.33839,"c":1.33841},
{"i":445,"o":1.33843,"h":1.33865,"l":1.33842,"c":1.33857},
{"i":446,"o":1.33856,"h":1.33898,"l":1.33855,"c":1.33896},
{"i":447,"o":1.33896,"h":1.33910,"l":1.33889,"c":1.33908},
{"i":448,"o":1.33908,"h":1.33909,"l":1.33895,"c":1.33906},
{"i":449,"o":1.33905,"h":1.33907,"l":1.33885,"c":1.33886},
{"i":450,"o":1.33888,"h":1.33895,"l":1.33885,"c":1.33886},
{"i":451,"o":1.33888,"h":1.33901,"l":1.33887,"c":1.33899},
{"i":452,"o":1.33900,"h":1.33917,"l":1.33899,"c":1.33916},
{"i":453,"o":1.33916,"h":1.33939,"l":1.33913,"c":1.33927},
{"i":454,"o":1.33927,"h":1.33945,"l":1.33925,"c":1.33939},
{"i":455,"o":1.33939,"h":1.33951,"l":1.33937,"c":1.33938},
{"i":456,"o":1.33939,"h":1.33940,"l":1.33926,"c":1.33927},
{"i":457,"o":1.33927,"h":1.33935,"l":1.33921,"c":1.33922},
{"i":458,"o":1.33922,"h":1.33931,"l":1.33908,"c":1.33929},
{"i":459,"o":1.33928,"h":1.33935,"l":1.33923,"c":1.33924},
{"i":460,"o":1.33927,"h":1.33929,"l":1.33921,"c":1.33926},
{"i":461,"o":1.33927,"h":1.33958,"l":1.33926,"c":1.33957},
{"i":462,"o":1.33957,"h":1.33975,"l":1.33955,"c":1.33961},
{"i":463,"o":1.33962,"h":1.34185,"l":1.33955,"c":1.34172},
{"i":464,"o":1.34171,"h":1.34249,"l":1.34148,"c":1.34214},
{"i":465,"o":1.34213,"h":1.34304,"l":1.34210,"c":1.34289},
{"i":466,"o":1.34288,"h":1.34329,"l":1.34210,"c":1.34293},
{"i":467,"o":1.34293,"h":1.34344,"l":1.34289,"c":1.34325}
]
},
"layer": [
{
"data": {"name": "levels"},
"mark": {"type": "rule", "strokeWidth": 2, "clip": true},
"encoding": {
"x": {"datum": 323.625, "type": "quantitative", "scale": {"domain": [-0.125, 584.625], "nice": false, "zero": false, "padding": 0}},
"x2": {"datum": 584.625},
"y": {"field": "p", "type": "quantitative", "scale": {"domain": [1.33091927, 1.34653747], "nice": false, "zero": false, "padding": 0}},
"color": {"field": "name", "type": "nominal", "scale": {"domain": ["Target 2", "Target 1", "Stop Loss"], "range": ["#008000", "#00ff00", "#ff0000"]}, "legend": null}
}
},
{
"data": {"name": "levels"},
"mark": {"type": "text", "align": "center", "baseline": "alphabetic", "dy": 21, "fontSize": 24, "font": "Liberation Sans"},
"encoding": {
"x": {"datum": 323.625, "type": "quantitative"},
"y": {"field": "p", "type": "quantitative"},
"text": {"field": "label"},
"color": {"field": "name", "type": "nominal", "legend": null}
}
},
{
"data": {"name": "bars"},
"transform": [{"filter": "datum.i == 467"}],
"mark": {"type": "rule", "color": "#c0c0c0", "strokeWidth": 1},
"encoding": {
"y": {"field": "c", "type": "quantitative"}
}
},
{
"data": {"name": "bars"},
"mark": {"type": "rule", "color": "#000000", "strokeWidth": 1, "clip": true},
"encoding": {
"x": {"field": "i", "type": "quantitative",
"scale": {"domain": [-0.125, 584.625], "nice": false, "zero": false, "padding": 0},
"axis": {"title": null, "orient": "bottom", "grid": false, "values": [0, 32, 64, 96, 128, 160, 192, 224, 256, 288, 320, 352, 384, 416, 448],
"labelExpr": "datum.value == 0 ? '9 Mar 2026' : timeFormat(datetime(2026, 2, 9, 14, 36 + datum.value), '%-d %b %H:%M')",
"labelAlign": "left", "labelBaseline": "top", "labelOffset": -1, "labelPadding": 4, "labelFont": "Liberation Sans", "labelFontSize": 18.5, "labelColor": "#000000",
"tickColor": "#000000", "tickSize": 3, "domainColor": "#000000", "labelOverlap": false, "labelFlush": false, "labelBound": false}},
"y": {"field": "l", "type": "quantitative",
"scale": {"domain": [1.33091927, 1.34653747], "nice": false, "zero": false, "padding": 0},
"axis": {"title": null, "orient": "right", "grid": false, "values": [1.33135, 1.33215, 1.33295, 1.33375, 1.33455, 1.33535, 1.33615, 1.33695, 1.33775, 1.33855, 1.33935, 1.34015, 1.34095, 1.34175, 1.34255, 1.34335, 1.34415, 1.34495, 1.34575],
"format": ".5f", "labelPadding": 5, "labelFont": "Liberation Sans", "labelFontSize": 17.5, "labelColor": "#000000",
"tickColor": "#000000", "tickSize": 4, "domainColor": "#000000", "labelOverlap": false, "labelFlush": false, "labelBound": false}},
"y2": {"field": "h"}
}
},
{
"data": {"name": "bars"},
"mark": {"type": "bar", "size": 2, "stroke": "#000000", "strokeWidth": 1, "clip": true},
"encoding": {
"x": {"field": "i", "type": "quantitative"},
"y": {"field": "o", "type": "quantitative"},
"y2": {"field": "c"},
"fill": {"condition": {"test": "datum.o > datum.c", "value": "#000000"}, "value": "#ffffff"}
}
},
{
"data": {"name": "arrows"},
"mark": {"type": "point", "shape": "M0,-1 L0.85,-0.15 L0.85,0.3 L0.3,-0.25 L0.3,1 L-0.3,1 L-0.3,-0.25 L-0.85,0.3 L-0.85,-0.15 Z", "filled": true, "size": 1024, "color": "#0000ff", "opacity": 1, "strokeWidth": 0},
"encoding": {
"x": {"field": "i", "type": "quantitative"},
"y": {"field": "p", "type": "quantitative"}
}
},
{
"data": {"name": "bars"},
"transform": [{"filter": "datum.i == 467"}],
"mark": {"type": "point", "shape": "M-1,-0.29 L1,-0.29 L1,0.29 L-1,0.29 Z", "filled": true, "size": 6241, "color": "#000000", "opacity": 1, "strokeWidth": 0},
"encoding": {
"x": {"datum": 594.95, "type": "quantitative"},
"y": {"field": "c", "type": "quantitative"}
}
},
{
"data": {"name": "bars"},
"transform": [{"filter": "datum.i == 467"}],
"mark": {"type": "text", "align": "center", "baseline": "middle", "font": "Liberation Sans", "fontSize": 17.5, "color": "#ffffff"},
"encoding": {
"x": {"datum": 594.95, "type": "quantitative"},
"y": {"field": "c", "type": "quantitative"},
"text": {"field": "c", "type": "quantitative", "format": ".5f"}
}
},
{
"data": {"values": [{"t": "frame"}]},
"mark": {"type": "rule", "color": "#646464", "strokeWidth": 1.5},
"encoding": {
"x": {"datum": -0.125, "type": "quantitative"},
"x2": {"datum": 610},
"y": {"datum": 1.34653747, "type": "quantitative"}
}
},
{
"data": {"values": [{"t": "bottom"}]},
"mark": {"type": "rule", "color": "#d4d4d4", "strokeWidth": 1},
"encoding": {
"x": {"datum": -0.125, "type": "quantitative"},
"x2": {"datum": 610},
"y": {"datum": 1.33052553, "type": "quantitative"}
}
},
{
"data": {"values": [{"t": "shift"}]},
"mark": {"type": "point", "shape": "M-1,-0.5 L1,-0.5 L0,0.5 Z", "filled": true, "size": 256, "color": "#b4b4b4", "opacity": 1, "strokeWidth": 0},
"encoding": {
"x": {"datum": 467.125, "type": "quantitative"},
"y": {"datum": 1.3464838, "type": "quantitative"}
}
},
{
"data": {"values": [{"t": "corner"}]},
"mark": {"type": "point", "shape": "M-1,-1 L-1,1 L1,1 Z", "filled": true, "size": 64, "color": "#c0c0c0", "opacity": 1, "strokeWidth": 0},
"encoding": {
"x": {"datum": 0.875, "type": "quantitative"},
"y": {"datum": 1.33096699, "type": "quantitative"}
}
},
{
"data": {"values": [{"t": "title"}]},
"mark": {"type": "text", "align": "center", "baseline": "alphabetic", "font": "DejaVu Sans", "fontWeight": "bold", "fontSize": 93, "color": "#000000", "text": "GBPUSD M1"},
"encoding": {
"x": {"datum": 318.625, "type": "quantitative"},
"y": {"datum": 1.34560682, "type": "quantitative"}
}
},
{
"data": {"values": [{"t": "menu"}]},
"mark": {"type": "point", "shape": "M-1,-0.5 L1,-0.5 L0,0.5 Z", "filled": true, "size": 100, "color": "#000000", "opacity": 1, "strokeWidth": 0},
"encoding": {
"x": {"datum": 2.375, "type": "quantitative"},
"y": {"datum": 1.3463406, "type": "quantitative"}
}
},
{
"data": {"values": [{"t": "symbol"}]},
"mark": {"type": "text", "align": "left", "baseline": "alphabetic", "font": "Liberation Sans", "fontSize": 18, "color": "#000000", "text": "GBPUSD,M1"},
"encoding": {
"x": {"datum": 6.625, "type": "quantitative"},
"y": {"datum": 1.34626663, "type": "quantitative"}
}
},
{
"data": {"values": [{"t": "ohlc"}]},
"mark": {"type": "text", "align": "left", "baseline": "alphabetic", "font": "Liberation Sans", "fontSize": 18.5, "color": "#000000", "text": "1.34293 1.34344 1.34289 1.34325"},
"encoding": {
"x": {"datum": 34.875, "type": "quantitative"},
"y": {"datum": 1.34626663, "type": "quantitative"}
}
}
]
}
